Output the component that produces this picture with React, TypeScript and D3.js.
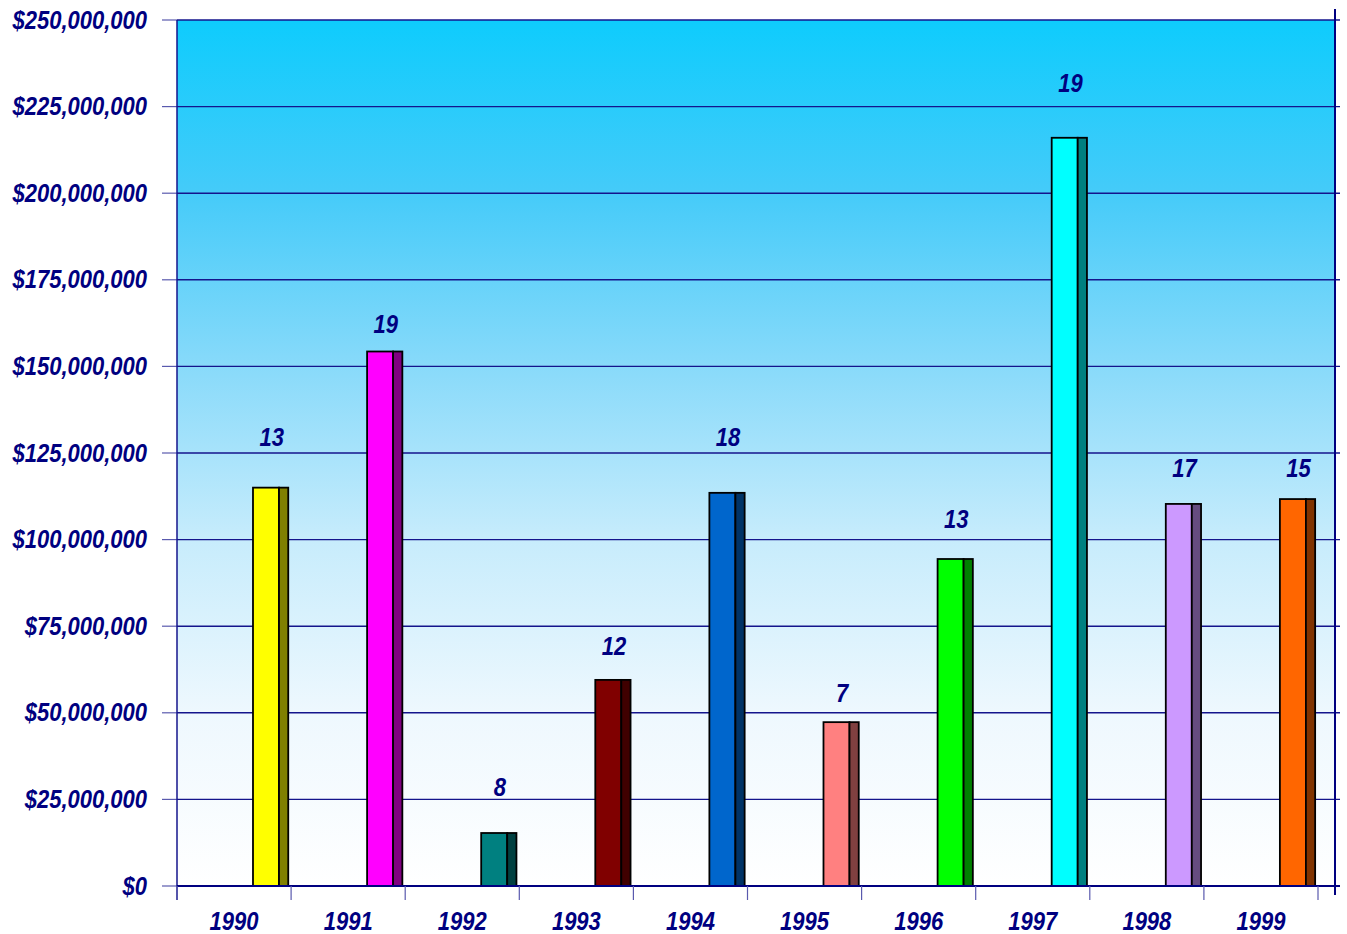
import React from "react";
import * as d3 from "d3";

// Annual totals (US$) and number of deals per year
const years = ["1990", "1991", "1992", "1993", "1994", "1995", "1996", "1997", "1998", "1999"];
const totals = [115e6, 154.3e6, 15.3e6, 59.5e6, 113.5e6, 47.3e6, 94.4e6, 216e6, 110.3e6, 111.7e6];
const dealCounts = [13, 19, 8, 12, 18, 7, 13, 19, 17, 15];
// Height (in $) at which each deal-count label sits
const labelLevels = [129.6e6, 162.2e6, 28.6e6, 69.3e6, 129.6e6, 55.7e6, 105.9e6, 231.8e6, 120.7e6, 120.7e6];
const faceColors = ["#FFFF00", "#FF00FF", "#008080", "#800000", "#0066CC", "#FF8080", "#00FF00", "#00FFFF", "#CC99FF", "#FF6600"];
const sideColors = ["#808000", "#800080", "#004040", "#400000", "#003366", "#804040", "#008000", "#008080", "#664C80", "#803300"];
const yTicks = [0, 25e6, 50e6, 75e6, 100e6, 125e6, 150e6, 175e6, 200e6, 225e6, 250e6];

const W = 1347;
const H = 934;
const left = 177;
const top = 20;
const bottom = 886;
const catRight = 1318;
const plotRight = 1335;

const NAVY = "#000080";
const FONT = "'Liberation Sans', Arial, Helvetica, sans-serif";

// Bold italic, slightly condensed label
function Label({ x, y, anchor, children }: { x: number; y: number; anchor: "start" | "middle" | "end"; children: React.ReactNode }) {
  return (
    <text
      transform={`translate(${x},${y}) scale(0.88,1)`}
      textAnchor={anchor}
      fontFamily={FONT}
      fontWeight="bold"
      fontStyle="italic"
      fontSize={25}
      fill={NAVY}
    >
      {children}
    </text>
  );
}

export default function App() {
  const y = d3.scaleLinear().domain([0, 250e6]).range([bottom, top]);
  const x = d3.scaleBand<string>().domain(years).range([left, catRight]).padding(0);
  const bw = x.bandwidth();
  const money = (v: number) => "$" + d3.format(",")(v);

  const boundaries = years.map((yr) => x(yr) as number).concat([catRight]);

  return (
    <svg width={W} height={H} style={{ position: "absolute", left: 0, top: 0, background: "#fff" }}>
      <defs>
        <linearGradient id="plotFill" x1="0" y1="0" x2="0" y2="1">
          <stop offset="0" stopColor="#0ECCFD" />
          <stop offset="0.2" stopColor="#45CBF9" />
          <stop offset="0.4" stopColor="#88DAFA" />
          <stop offset="0.6" stopColor="#C7ECFC" />
          <stop offset="0.8" stopColor="#EEF8FE" />
          <stop offset="1" stopColor="#FFFFFF" />
        </linearGradient>
      </defs>

      <rect x={left} y={top} width={plotRight - left} height={bottom - top} fill="url(#plotFill)" />

      {/* horizontal gridlines and value ticks */}
      {yTicks.map((t) => (
        <g key={t}>
          <line x1={left} x2={1340} y1={y(t)} y2={y(t)} stroke="#14148C" strokeWidth={1.4} />
          <line x1={162} x2={left} y1={y(t)} y2={y(t)} stroke="#5A5AAE" strokeWidth={1.2} />
          <Label x={147} y={y(t) + 8.5} anchor="end">
            {money(t)}
          </Label>
        </g>
      ))}

      {/* bars: front face plus a darker side face */}
      {years.map((yr, i) => {
        const x0 = (x(yr) as number) + bw * 0.666;
        const x1 = (x(yr) as number) + bw * 0.894;
        const x2 = (x(yr) as number) + bw * 0.975;
        const yt = y(totals[i]);
        return (
          <g key={yr}>
            <rect x={x0} y={yt} width={x1 - x0} height={bottom - yt} fill={faceColors[i]} stroke="#000" strokeWidth={1.8} />
            <rect x={x1} y={yt} width={x2 - x1} height={bottom - yt} fill={sideColors[i]} stroke="#000" strokeWidth={1.8} />
          </g>
        );
      })}

      {/* deal count labels */}
      {years.map((yr, i) => (
        <Label key={"l" + yr} x={(x(yr) as number) + bw * 0.83} y={y(labelLevels[i]) + 9} anchor="middle">
          {dealCounts[i]}
        </Label>
      ))}

      {/* axes */}
      <line x1={left} x2={left} y1={top} y2={900} stroke="#14148C" strokeWidth={1.5} />
      <line x1={plotRight} x2={plotRight} y1={9} y2={895} stroke={NAVY} strokeWidth={2} />
      <line x1={left} x2={1340} y1={bottom} y2={bottom} stroke={NAVY} strokeWidth={2.2} />
      {boundaries.map((bx, i) => (
        <line key={"t" + i} x1={bx} x2={bx} y1={bottom} y2={900} stroke="#5A5AAE" strokeWidth={1.2} />
      ))}
      {years.map((yr) => (
        <Label key={"c" + yr} x={(x(yr) as number) + bw / 2} y={930} anchor="middle">
          {yr}
        </Label>
      ))}
    </svg>
  );
}
